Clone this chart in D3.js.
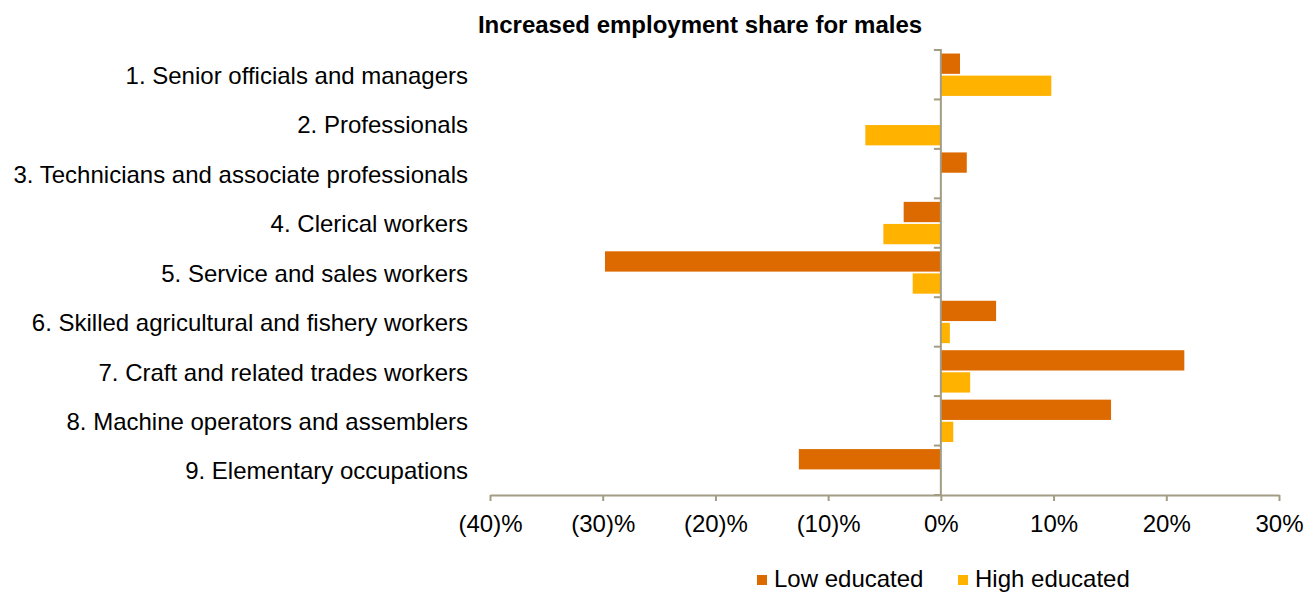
<!DOCTYPE html>
<html><head><meta charset="utf-8">
<script src="https://cdn.jsdelivr.net/npm/d3@7"></script>
<style>body{margin:0;background:#fff}svg{display:block}text{font-family:"Liberation Sans",Arial,sans-serif;fill:#000}</style>
</head><body><svg id="c" width="1315" height="592"></svg>
<script>
const categories = ["1. Senior officials and managers","2. Professionals","3. Technicians and associate professionals","4. Clerical workers","5. Service and sales workers","6. Skilled agricultural and fishery workers","7. Craft and related trades workers","8. Machine operators and assemblers","9. Elementary occupations"];
const seriesNames = ["Low educated","High educated"];
const lowEducated = [1.7, 0, 2.3, -3.3, -29.8, 4.9, 21.6, 15.1, -12.6];
const highEducated = [9.8, -6.7, 0, -5.1, -2.5, 0.8, 2.6, 1.1, 0];
const xTicks = [-40,-30,-20,-10,0,10,20,30];
const colors = ["#DD6A00","#FFB300"];
const title = "Increased employment share for males";

const svg = d3.select("#c");
const x = d3.scaleLinear().domain([-40,30]).range([490,1279]);
const y = d3.scaleBand().domain(categories).range([50,495]).paddingInner(0).paddingOuter(0);
const yInner = d3.scaleBand().domain(seriesNames).range([0,y.bandwidth()]).paddingOuter(0.16).paddingInner(0.08);
const axisColor = "#A39C84";

svg.append("text").attr("x",700).attr("y",33).attr("text-anchor","middle")
  .style("font-weight","bold").style("font-size","24px").text(title);

const series = [lowEducated, highEducated];
series.forEach((vals,si)=>{
  svg.append("g").selectAll("rect").data(vals).join("rect")
    .attr("x",d=>x(Math.min(0,d)))
    .attr("width",d=>Math.abs(x(d)-x(0)))
    .attr("y",(d,i)=>y(categories[i])+yInner(seriesNames[si]))
    .attr("height",yInner.bandwidth())
    .attr("fill",colors[si]);
});

// x axis
const xa = svg.append("g").attr("transform","translate(0,495)")
  .call(d3.axisBottom(x).tickValues(xTicks).tickSize(6).tickSizeOuter(0)
    .tickFormat(d=>d<0?"("+Math.abs(d)+")%":d+"%"));
xa.select(".domain").attr("stroke",axisColor).attr("stroke-width",2);
xa.selectAll(".tick line").attr("stroke",axisColor).attr("stroke-width",2);
xa.selectAll(".tick text").attr("dy",0).attr("y",37).style("font-size","24px").style("font-family","'Liberation Sans',Arial,sans-serif").attr("fill","#000");

// y axis at zero
const boundaries = categories.map(c=>y(c)).concat([y.range()[1]]);
svg.append("g").selectAll("line").data(boundaries).join("line")
  .attr("x1",x(0)-7).attr("x2",x(0)).attr("y1",d=>d).attr("y2",d=>d)
  .attr("stroke",axisColor).attr("stroke-width",2);
svg.append("line").attr("x1",x(0)).attr("x2",x(0)).attr("y1",y.range()[0]-1).attr("y2",y.range()[1])
  .attr("stroke",axisColor).attr("stroke-width",2);

// category labels
svg.append("g").selectAll("text").data(categories).join("text")
  .attr("x",468).attr("y",d=>y(d)+y.bandwidth()/2).attr("dy","0.38em")
  .attr("text-anchor","end").style("font-size","24px").text(d=>d);

// legend
const leg = [{n:"Low educated",c:colors[0],x:757},{n:"High educated",c:colors[1],x:958}];
const lg = svg.append("g");
leg.forEach(l=>{
  lg.append("rect").attr("x",l.x).attr("y",575).attr("width",10).attr("height",10).attr("fill",l.c);
  lg.append("text").attr("x",l.x+17).attr("y",587).style("font-size","24px").text(l.n);
});
</script></body></html>
